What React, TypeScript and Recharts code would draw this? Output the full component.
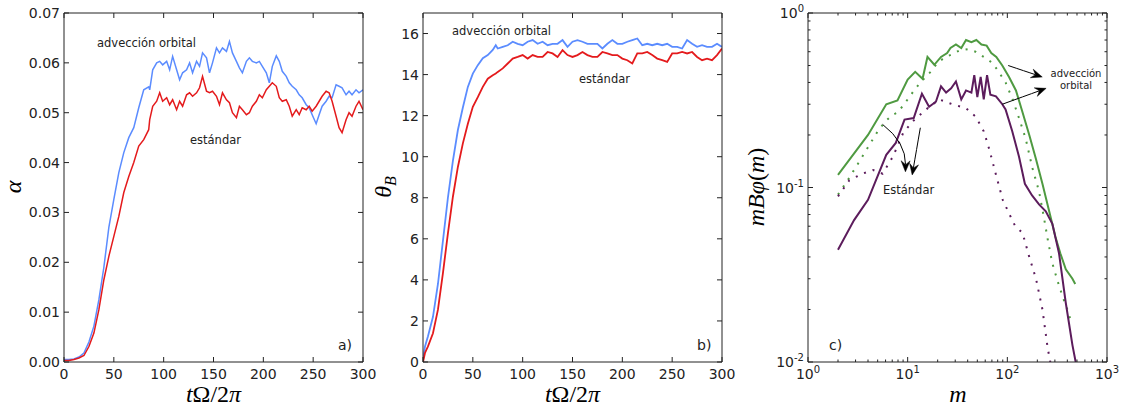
import React from "react";
import { LineChart, Line, XAxis, YAxis, ReferenceLine } from "recharts";

// panel a: alpha vs t
const tA = [0, 5, 10, 15, 20, 25, 30, 35, 40, 45, 50, 55, 60, 65, 70, 75, 80, 85,
  86, 89, 93, 96, 99, 103, 106, 109, 113, 116, 119, 123, 126, 129, 133, 136, 139,
  143, 146, 149, 153, 156, 159, 163, 166, 169, 173, 176, 179, 183, 186, 189, 193, 196, 199,
  203, 206, 209, 213, 216, 219, 223, 226, 229, 233, 236, 239, 243, 246, 249,
  253, 256, 259, 263, 266, 269, 273, 276, 279, 283, 286, 289, 293, 296, 300];
const alphaOrbital = [0.0005, 0.0005, 0.0006, 0.001, 0.0018, 0.004, 0.0072, 0.0125, 0.019, 0.027, 0.0326, 0.038, 0.042, 0.045, 0.047, 0.051, 0.0546, 0.0552,
  0.0546, 0.0586, 0.06, 0.0603, 0.0596, 0.0603, 0.0586, 0.0613, 0.0586, 0.0566, 0.058, 0.0586, 0.06, 0.058, 0.0603, 0.0593, 0.062,
  0.061, 0.058, 0.06, 0.063, 0.062, 0.063, 0.0623, 0.0643, 0.062, 0.0603, 0.059, 0.058, 0.0603, 0.061, 0.0603, 0.06, 0.0603, 0.0593,
  0.058, 0.056, 0.0593, 0.0614, 0.0603, 0.0583, 0.0573, 0.056, 0.0553, 0.0546, 0.0536, 0.053, 0.0516, 0.051, 0.0496,
  0.0478, 0.0496, 0.0513, 0.0523, 0.0533, 0.053, 0.0556, 0.0553, 0.055, 0.0536, 0.0543, 0.0536, 0.0546, 0.054, 0.0546];
const alphaStd = [0.0003, 0.0003, 0.0005, 0.0008, 0.0013, 0.0031, 0.0058, 0.0105, 0.0165, 0.0212, 0.0252, 0.0292, 0.034, 0.0372, 0.04, 0.0433, 0.0446, 0.0466,
  0.0486, 0.0513, 0.0523, 0.054, 0.0523, 0.053, 0.0516, 0.0526, 0.0506, 0.0523, 0.0513, 0.0536, 0.054, 0.0533, 0.054, 0.055, 0.0573,
  0.0543, 0.054, 0.0543, 0.0533, 0.0516, 0.054, 0.0526, 0.052, 0.05, 0.049, 0.0513, 0.0506, 0.0496, 0.05, 0.0513, 0.0523, 0.0536, 0.053,
  0.0546, 0.0553, 0.056, 0.0553, 0.053, 0.0523, 0.0526, 0.0513, 0.0493, 0.0506, 0.0496, 0.051, 0.0506, 0.0513, 0.0503,
  0.0513, 0.0523, 0.0533, 0.0543, 0.054, 0.0523, 0.0493, 0.047, 0.046, 0.0486, 0.05, 0.0493, 0.0513, 0.0523, 0.0506];

// panel b: theta_B vs t
const tB = [0, 2, 5, 10, 15, 20, 25, 30, 35, 40, 45, 50, 55, 60, 65, 70, 73, 75, 80, 85, 90, 95, 100, 105, 110, 115, 120, 125, 130, 135, 140, 145, 150, 155, 160, 165, 170, 175, 180, 185, 190, 195, 200, 205, 210, 215, 220, 225, 230, 235, 240, 245, 250, 255, 260, 265, 270, 275, 280, 285, 290, 295, 300];
const thetaOrbital = [0.1, 0.76, 1.25, 2.2, 3.8, 5.9, 8.0, 9.8, 11.3, 12.4, 13.4, 14.05, 14.46, 14.8, 14.95, 15.2, 15.43, 15.27, 15.35, 15.43, 15.6, 15.5, 15.43, 15.6, 15.68, 15.5, 15.6, 15.43, 15.5, 15.5, 15.68, 15.35, 15.6, 15.68, 15.6, 15.5, 15.5, 15.5, 15.27, 15.5, 15.68, 15.5, 15.5, 15.6, 15.68, 15.76, 15.43, 15.5, 15.43, 15.5, 15.43, 15.5, 15.35, 15.35, 15.27, 15.68, 15.5, 15.35, 15.43, 15.35, 15.35, 15.5, 15.35];
const thetaStd = [0, 0.44, 0.76, 1.4, 2.55, 4.33, 6.27, 8.05, 9.5, 10.65, 11.6, 12.43, 12.9, 13.4, 13.8, 13.97, 14.05, 14.13, 14.3, 14.54, 14.78, 14.86, 14.95, 14.78, 14.95, 14.86, 14.86, 15.1, 15.03, 14.86, 15.19, 14.95, 14.86, 14.95, 15.1, 14.95, 14.86, 14.86, 15.1, 15.03, 14.95, 14.95, 14.78, 14.7, 14.54, 15.03, 15.03, 15.1, 14.95, 14.78, 14.7, 14.62, 15.03, 15.03, 15.1, 15.03, 15.1, 14.86, 14.7, 14.78, 14.7, 14.95, 15.27];

// panel c: spectra
const mGreenSolid = [2, 4, 6.1, 7.9, 10, 11.9, 14.1, 15.8, 18.5, 21.6, 24.9, 26.9, 30.5, 34.5, 38.5, 43.6, 48.9, 55, 62, 69, 77.5, 89, 104, 122, 142, 166, 194, 225, 260, 304, 340, 386, 450, 480];
const vGreenSolid = [0.118, 0.2, 0.3, 0.315, 0.415, 0.46, 0.42, 0.56, 0.505, 0.56, 0.59, 0.63, 0.66, 0.63, 0.7, 0.68, 0.7, 0.66, 0.65, 0.59, 0.56, 0.5, 0.43, 0.36, 0.27, 0.2, 0.145, 0.105, 0.075, 0.052, 0.042, 0.034, 0.03, 0.028];
const mGreenDot = [2, 2.5, 3, 4, 5, 6, 7, 8, 10, 12, 14, 17, 20, 24, 28, 33, 40, 48, 58, 70, 80, 96, 113, 131, 153, 178, 208, 230, 255, 282, 320, 356, 400, 430, 478];
const vGreenDot = [0.091, 0.11, 0.13, 0.17, 0.21, 0.24, 0.26, 0.27, 0.32, 0.37, 0.41, 0.46, 0.52, 0.56, 0.58, 0.61, 0.62, 0.6, 0.56, 0.52, 0.47, 0.4, 0.32, 0.25, 0.19, 0.13, 0.095, 0.07, 0.05, 0.037, 0.029, 0.024, 0.02, 0.0175, 0.017];
const mPurpleSolid = [2, 2.9, 4, 6.1, 7.6, 9.3, 11.5, 13.9, 16.4, 19.2, 21.6, 24.3, 27.3, 30.5, 34.5, 38.5, 43.6, 46.6, 50, 54, 58, 62.6, 67.6, 76.9, 89, 96, 112, 131, 150, 177, 208, 243, 283, 330, 385, 450, 485];
const vPurpleSolid = [0.044, 0.065, 0.085, 0.154, 0.18, 0.245, 0.25, 0.345, 0.29, 0.31, 0.38, 0.35, 0.37, 0.405, 0.32, 0.36, 0.35, 0.44, 0.33, 0.43, 0.32, 0.44, 0.34, 0.333, 0.3, 0.28, 0.21, 0.15, 0.105, 0.09, 0.08, 0.073, 0.062, 0.042, 0.022, 0.0125, 0.01];
const mPurpleDot = [2, 2.6, 3.5, 4.5, 5.6, 7.1, 9, 11.3, 15.3, 20.7, 28, 38.5, 48, 58, 66, 77, 90, 104, 120, 142, 166, 194, 225, 254, 270];
const vPurpleDot = [0.089, 0.11, 0.12, 0.126, 0.12, 0.15, 0.205, 0.24, 0.28, 0.32, 0.3, 0.285, 0.255, 0.21, 0.165, 0.118, 0.085, 0.071, 0.06, 0.055, 0.04, 0.03, 0.02, 0.012, 0.01];

const ticksA_x = [0, 50, 100, 150, 200, 250, 300];
const ticksA_y = [0, 0.01, 0.02, 0.03, 0.04, 0.05, 0.06, 0.07];
const ticksB_y = [0, 2, 4, 6, 8, 10, 12, 14, 16];
const ticksC_x = [1, 2, 3, 4, 5, 6, 7, 8, 9, 10, 20, 30, 40, 50, 60, 70, 80, 90, 100, 200, 300, 400, 500, 600, 700, 800, 900, 1000];
const ticksC_y = [0.01, 0.02, 0.03, 0.04, 0.05, 0.06, 0.07, 0.08, 0.09, 0.1, 0.2, 0.3, 0.4, 0.5, 0.6, 0.7, 0.8, 0.9, 1];

const BLUE = "#5b8cff";
const RED = "#e41a1c";
const GREEN = "#4f9a41";
const PURPLE = "#5c1c5c";
const INK = "#222";
const SANS = "'DejaVu Sans', sans-serif";
const MATH = "'Liberation Serif', 'DejaVu Serif', serif";

type Side = "left" | "right" | "top" | "bottom";

const isDecade = (v: number) => Math.abs(Math.log10(v) - Math.round(Math.log10(v))) < 1e-6;

function pow10Label(v: number) {
  const e = Math.round(Math.log10(v));
  return (
    <>
      10<tspan dy={-6} fontSize={10}>{e}</tspan>
    </>
  );
}

// draws the inward tick line (and label for left/bottom) itself
function makeTick(side: Side, fmt: ((v: number) => React.ReactNode) | null, major?: (v: number) => boolean) {
  return (props: any) => {
    const { x, y, payload } = props;
    const v = payload.value;
    const big = major ? major(v) : true;
    const len = big ? 5 : 2.5;
    let ln: React.ReactNode = null;
    let label: React.ReactNode = null;
    if (side === "left") {
      ln = <line x1={x} x2={x + len} y1={y} y2={y} stroke={INK} />;
      if (fmt && big)
        label = (
          <text x={x - 4} y={y + 5} textAnchor="end" fontSize={14} fontFamily={SANS} fill={INK}>
            {fmt(v)}
          </text>
        );
    } else if (side === "right") {
      ln = <line x1={x} x2={x - len} y1={y} y2={y} stroke={INK} />;
    } else if (side === "top") {
      ln = <line x1={x} x2={x} y1={y} y2={y + len} stroke={INK} />;
    } else {
      ln = <line x1={x} x2={x} y1={y} y2={y - len} stroke={INK} />;
      if (fmt && big)
        label = (
          <text x={x} y={y + 17} textAnchor="middle" fontSize={14} fontFamily={SANS} fill={INK}>
            {fmt(v)}
          </text>
        );
    }
    return (
      <g>
        {ln}
        {label}
      </g>
    );
  };
}

function arrowShape(curve: number) {
  return (p: any) => {
    const { x1, y1, x2, y2 } = p;
    const dx = x2 - x1;
    const dy = y2 - y1;
    const L = Math.hypot(dx, dy) || 1;
    const ux = dx / L;
    const uy = dy / L;
    const cx = (x1 + x2) / 2 - uy * curve * L;
    const cy = (y1 + y2) / 2 + ux * curve * L;
    let ex = x2 - cx;
    let ey = y2 - cy;
    const el = Math.hypot(ex, ey) || 1;
    ex /= el;
    ey /= el;
    const hl = 11;
    const hw = 4.5;
    const bx = x2 - ex * hl;
    const by = y2 - ey * hl;
    const nx = x2 - ex * hl * 0.65;
    const ny = y2 - ey * hl * 0.65;
    const head = `M${x2},${y2} L${bx - ey * hw},${by + ex * hw} L${nx},${ny} L${bx + ey * hw},${by - ex * hw} Z`;
    return (
      <g>
        <path d={`M${x1},${y1} Q${cx},${cy} ${nx},${ny}`} fill="none" stroke="#000" strokeWidth={1} />
        <path d={head} fill="#000" stroke="#000" strokeWidth={0.5} />
      </g>
    );
  };
}

const CH_W = 380;
const CH_H = 414;
const MARGIN = { top: 12, right: 16, left: 0, bottom: 0 };

function axes(xKey: string, xTicks: number[], yTicks: number[], xDomain: [number, number], yDomain: [number, number], xFmt: (v: number) => React.ReactNode, yFmt: (v: number) => React.ReactNode, log: boolean) {
  const scale = log ? "log" : "linear";
  const major = log ? isDecade : undefined;
  const common = { type: "number" as const, scale: scale as any, allowDataOverflow: true, interval: 0 as const, tickLine: false, tickSize: 0, tickMargin: 0, axisLine: { stroke: INK, strokeWidth: 1 } };
  return [
    <XAxis key="xb" xAxisId={0} dataKey={xKey} orientation="bottom" height={52} domain={xDomain} ticks={xTicks} tick={makeTick("bottom", xFmt, major)} {...common} />,
    <XAxis key="xt" xAxisId="top" dataKey={xKey} orientation="top" height={1} domain={xDomain} ticks={xTicks} tick={makeTick("top", null, major)} {...common} />,
    <YAxis key="yl" yAxisId={0} orientation="left" width={64} domain={yDomain} ticks={yTicks} tick={makeTick("left", yFmt, major)} {...common} />,
    <YAxis key="yr" yAxisId="right" orientation="right" width={1} domain={yDomain} ticks={yTicks} tick={makeTick("right", null, major)} {...common} />,
  ];
}

export default function App() {
  const dataA = tA.map((t, i) => ({ t, orb: alphaOrbital[i], std: alphaStd[i] }));
  const dataB = tB.map((t, i) => ({ t, orb: thetaOrbital[i], std: thetaStd[i] }));
  const gs = mGreenSolid.map((m, i) => ({ m, v: vGreenSolid[i] }));
  const gd = mGreenDot.map((m, i) => ({ m, v: vGreenDot[i] }));
  const ps = mPurpleSolid.map((m, i) => ({ m, v: vPurpleSolid[i] }));
  const pd = mPurpleDot.map((m, i) => ({ m, v: vPurpleDot[i] }));

  return (
    <div style={{ position: "absolute", left: 0, top: 0, width: 1136, height: 414, background: "#fff" }}>
      <div style={{ position: "absolute", left: 0, top: 0 }}>
        <LineChart width={CH_W} height={CH_H} data={dataA} margin={MARGIN}>
          {axes("t", ticksA_x, ticksA_y, [0, 300], [0, 0.07], (v) => String(v), (v) => v.toFixed(2), false)}
          <Line xAxisId="top" yAxisId="right" dataKey="orb" stroke="none" dot={false} isAnimationActive={false} />
          <Line dataKey="orb" stroke={BLUE} strokeWidth={1.5} dot={false} isAnimationActive={false} />
          <Line dataKey="std" stroke={RED} strokeWidth={1.5} dot={false} isAnimationActive={false} />
        </LineChart>
      </div>
      <div style={{ position: "absolute", left: 359, top: 0 }}>
        <LineChart width={CH_W} height={CH_H} data={dataB} margin={MARGIN}>
          {axes("t", ticksA_x, ticksB_y, [0, 300], [0, 17], (v) => String(v), (v) => String(v), false)}
          <Line xAxisId="top" yAxisId="right" dataKey="orb" stroke="none" dot={false} isAnimationActive={false} />
          <Line dataKey="orb" stroke={BLUE} strokeWidth={1.8} dot={false} isAnimationActive={false} />
          <Line dataKey="std" stroke={RED} strokeWidth={1.8} dot={false} isAnimationActive={false} />
        </LineChart>
      </div>
      <div style={{ position: "absolute", left: 744, top: 0 }}>
        <LineChart width={CH_W} height={CH_H} margin={MARGIN}>
          {axes("m", ticksC_x, ticksC_y, [1, 1000], [0.01, 1], pow10Label, pow10Label, true)}
          <Line xAxisId="top" yAxisId="right" data={gs} dataKey="v" stroke="none" dot={false} isAnimationActive={false} />
          <Line data={gs} dataKey="v" stroke={GREEN} strokeWidth={2} dot={false} isAnimationActive={false} />
          <Line data={gd} dataKey="v" stroke={GREEN} strokeWidth={2} strokeDasharray="2 7" dot={false} isAnimationActive={false} />
          <Line data={ps} dataKey="v" stroke={PURPLE} strokeWidth={2} dot={false} isAnimationActive={false} />
          <Line data={pd} dataKey="v" stroke={PURPLE} strokeWidth={2} strokeDasharray="2 7" dot={false} isAnimationActive={false} />
          <ReferenceLine segment={[{ x: 102, y: 0.5 }, { x: 224, y: 0.43 }]} ifOverflow="visible" shape={arrowShape(0)} />
          <ReferenceLine segment={[{ x: 89, y: 0.3 }, { x: 245, y: 0.37 }]} ifOverflow="visible" shape={arrowShape(0)} />
          <ReferenceLine segment={[{ x: 5.6, y: 0.23 }, { x: 9.5, y: 0.123 }]} ifOverflow="visible" shape={arrowShape(-0.25)} />
          <ReferenceLine segment={[{ x: 13.4, y: 0.22 }, { x: 11.1, y: 0.118 }]} ifOverflow="visible" shape={arrowShape(0)} />
        </LineChart>
      </div>
      <svg width={1136} height={414} style={{ position: "absolute", left: 0, top: 0, pointerEvents: "none" }}>
        <g fontFamily={SANS} fill={INK}>
          <text x={97} y={47} fontSize={11.5}>advección orbital</text>
          <text x={190} y={144} fontSize={11.5}>estándar</text>
          <text x={452} y={35} fontSize={11.5}>advección orbital</text>
          <text x={579} y={83} fontSize={11.5}>estándar</text>
          <text x={1076} y={77} fontSize={10} textAnchor="middle">advección</text>
          <text x={1076} y={89} fontSize={10} textAnchor="middle">orbital</text>
          <text x={883} y={194} fontSize={11.5}>Estándar</text>
          <text x={338} y={350} fontSize={14}>a)</text>
          <text x={697} y={350} fontSize={14}>b)</text>
          <text x={829} y={350} fontSize={14}>c)</text>
        </g>
        <g fontFamily={MATH} fill="#000" fontSize={24}>
          <text x={213.5} y={402} textAnchor="middle">
            <tspan fontStyle="italic">t</tspan>Ω/2<tspan fontStyle="italic">π</tspan>
          </text>
          <text x={572.5} y={402} textAnchor="middle">
            <tspan fontStyle="italic">t</tspan>Ω/2<tspan fontStyle="italic">π</tspan>
          </text>
          <text x={958} y={402} textAnchor="middle" fontStyle="italic">m</text>
          <text transform="translate(21,187) rotate(-90)" textAnchor="middle" fontStyle="italic">α</text>
          <text transform="translate(391,187) rotate(-90)" textAnchor="middle">
            <tspan fontStyle="italic">θ</tspan>
            <tspan fontStyle="italic" fontSize={16} dy={5}>B</tspan>
          </text>
          <text transform="translate(764,187) rotate(-90)" textAnchor="middle">
            <tspan fontStyle="italic">mBφ</tspan>(<tspan fontStyle="italic">m</tspan>)
          </text>
        </g>
      </svg>
    </div>
  );
}
